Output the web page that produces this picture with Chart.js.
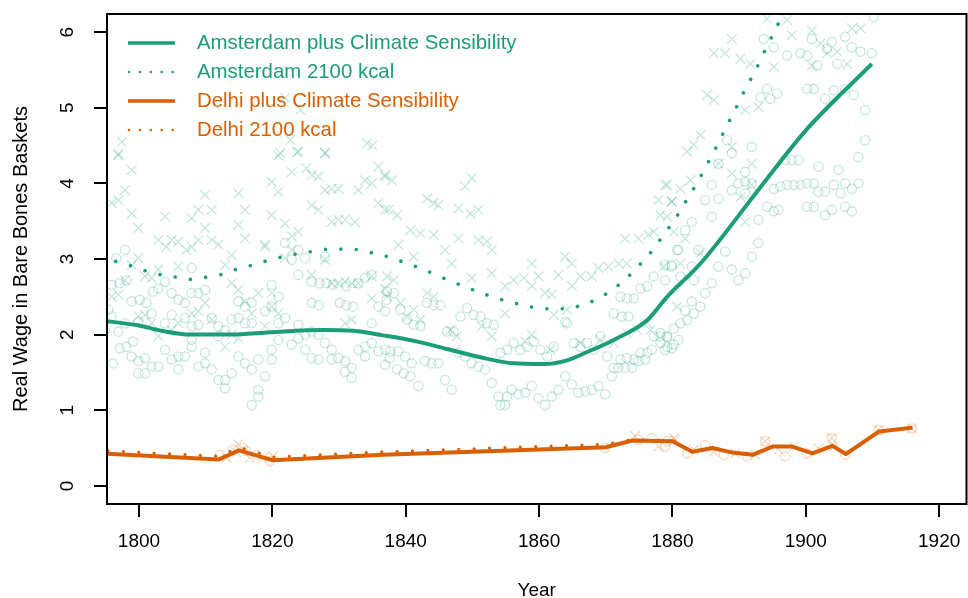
<!DOCTYPE html>
<html>
<head>
<meta charset="utf-8">
<script src="https://cdn.jsdelivr.net/npm/chart.js@4.4.0/dist/chart.umd.min.js"></script>
<style>
  html, body { margin: 0; padding: 0; background: #fff; }
  #wrap { width: 968px; height: 598px; }
</style>
</head>
<body>
<div id="wrap"><canvas id="wageChart" width="968" height="598"></canvas></div>
<script>
// axis ticks
const xTicks = [1800, 1820, 1840, 1860, 1880, 1900, 1920];
const yTicks = [0, 1, 2, 3, 4, 5, 6];

const seriesLabels = [
  "Amsterdam plus Climate Sensibility",
  "Amsterdam 2100 kcal",
  "Delhi plus Climate Sensibility",
  "Delhi 2100 kcal",
];

// Amsterdam plus climate sensibility (smoothed)
const amsCsYears = [1794, 1800, 1803.4, 1807.7, 1813.7, 1819.7, 1827.6, 1832.1, 1836.6, 1841.1, 1846.2, 1851.2, 1856.2, 1860.7, 1864.2, 1867.2, 1871.2, 1876.2, 1879.2, 1884.2, 1893.2, 1900.2, 1909.9];
const amsCsValues = [2.19, 2.12, 2.05, 2.0, 2.0, 2.03, 2.06, 2.05, 1.99, 1.92, 1.81, 1.7, 1.62, 1.61, 1.66, 1.77, 1.93, 2.19, 2.5, 2.94, 3.95, 4.72, 5.58];

// Amsterdam 2100 kcal (smoothed)
const ams2100Years = [1795.2, 1796.5, 1798.8, 1801.1, 1803.3, 1805.6, 1807.9, 1810.2, 1812.6, 1814.8, 1817.1, 1819.3, 1821.6, 1823.8, 1826.1, 1828.5, 1830.8, 1833.2, 1835.4, 1837.7, 1839.9, 1842.1, 1844.3, 1846.4, 1848.7, 1850.8, 1853.0, 1855.3, 1857.6, 1859.9, 1862.2, 1864.5, 1866.8, 1868.9, 1870.9, 1872.8, 1874.4, 1876.0, 1877.5, 1878.8, 1880.2, 1881.5, 1882.7, 1883.9, 1885.0, 1886.1, 1887.2, 1888.2, 1889.3, 1890.3, 1891.4, 1892.5, 1893.5, 1894.5, 1895.6, 1897, 1899];
const ams2100Values = [3.0, 2.97, 2.91, 2.84, 2.79, 2.76, 2.73, 2.76, 2.8, 2.87, 2.92, 2.98, 3.03, 3.07, 3.1, 3.13, 3.13, 3.12, 3.07, 3.02, 2.95, 2.88, 2.8, 2.72, 2.64, 2.57, 2.5, 2.44, 2.39, 2.35, 2.34, 2.35, 2.4, 2.48, 2.59, 2.72, 2.86, 3.01, 3.17, 3.34, 3.5, 3.69, 3.86, 4.04, 4.22, 4.4, 4.59, 4.77, 4.95, 5.14, 5.32, 5.5, 5.69, 5.87, 6.06, 6.32, 6.7];

// Delhi
const delhiYears = [1794, 1812, 1815, 1820, 1836.6, 1870, 1874, 1880, 1883, 1886, 1889, 1892, 1895, 1898, 1901, 1904, 1906, 1911, 1916];
const delhiCsValues = [0.43, 0.35, 0.47, 0.34, 0.41, 0.51, 0.6, 0.59, 0.45, 0.5, 0.44, 0.41, 0.52, 0.52, 0.43, 0.53, 0.42, 0.72, 0.77];
const delhi2100Values = [0.47, 0.39, 0.51, 0.38, 0.45, 0.55, 0.61, 0.6, 0.45, 0.5, 0.44, 0.41, 0.52, 0.52, 0.43, 0.53, 0.42, 0.72, 0.77];

// individual observations [year, wage]
const amsCircles = [
  [1797.9,3.12],[1796.6,3.01],[1795.9,2.66],[1797.1,2.68],[1798.1,2.72],[1798.9,2.44],[1800.1,2.46],[1801.1,2.42],[1802.1,2.57],[1801.9,2.28],
  [1802.9,2.61],[1803.9,2.7],[1804.9,2.55],[1805.9,2.46],[1806.9,2.42],[1807.9,2.88],[1807.9,2.55],[1808.9,2.55],[1809.9,2.59],[1810.9,2.22],
  [1811.9,2.11],[1812.9,2.06],[1813.9,2.2],[1814.9,2.44],[1815.9,2.37],[1816.9,2.42],[1816.9,2.15],[1818.9,2.31],[1819.9,2.37],[1819.9,2.66],
  [1820.9,2.5],[1821.9,3.21],[1822.9,2.99],[1823.9,3.12],[1824.9,3.01],[1823.9,2.79],[1825.9,2.42],[1826.9,2.39],[1825.9,2.7],[1827.1,2.68],
  [1827.9,3.03],[1828.1,2.68],[1829.1,2.66],[1830.1,2.42],[1831.1,2.39],[1832.1,2.37],[1831.1,2.64],[1832.9,2.68],[1833.9,2.75],[1834.9,2.79],
  [1835.9,2.37],[1836.9,2.31],[1837.1,2.46],
  [1796.1,1.62],[1797.1,1.82],[1798.1,1.84],[1799.1,1.91],[1798.9,1.71],[1799.9,1.65],[1800.9,1.69],[1799.9,1.49],[1800.9,1.49],[1801.9,1.58],
  [1802.9,1.58],[1803.9,1.8],[1804.9,1.67],[1805.9,1.71],[1805.9,1.54],[1806.9,1.71],[1807.9,1.84],[1808.9,1.58],[1809.9,1.62],[1809.9,1.76],
  [1810.9,1.54],[1811.9,1.4],[1812.9,1.29],[1812.9,1.4],[1813.9,1.49],[1814.9,1.71],[1815.9,1.62],[1816.9,1.54],[1817.9,1.67],[1817.9,1.27],
  [1816.9,1.07],[1817.9,1.18],[1818.9,1.45],[1819.9,1.67],[1819.9,1.8],[1820.9,1.93],[1822.9,1.87],[1823.9,1.95],[1824.9,1.8],[1825.9,1.69],
  [1826.9,1.67],[1827.9,1.89],[1828.9,1.8],[1828.9,1.67],[1829.9,1.69],[1830.9,1.65],[1830.9,1.51],[1831.9,1.56],[1831.9,1.43],[1832.9,1.8],
  [1833.9,1.84],[1834.9,1.89],[1833.9,1.71],[1835.9,1.78],[1836.9,1.6],[1837.6,1.69],
  [1795.4,2.33],[1795.9,2.24],[1794.9,2.06],[1796.9,2.04],[1797.9,2.15],[1799.9,2.17],[1803.9,2.15],[1804.9,2.26],[1806.9,2.22],[1807.9,2.11],
  [1807.9,1.93],[1808.9,2.13],[1811.9,1.98],[1814.9,2.22],[1815.9,2.15],[1820.9,2.15],[1821.9,2.22],[1823.9,2.13],[1824.9,2.0],[1825.9,2.04],
  [1826.9,2.0],[1834.9,2.15],
  [1837.2,2.57],[1838.2,2.55],[1839.2,2.33],[1840.2,2.2],[1841.2,2.13],[1842.2,2.11],[1843.2,2.42],[1844.2,2.39],[1845.2,2.39],[1846.2,2.04],
  [1847.2,2.04],[1848.2,2.24],[1849.2,2.35],[1850.2,2.26],[1851.2,2.24],[1852.2,2.15],[1853.2,2.13],[1863.9,2.17],[1871.2,2.28],[1872.2,2.5],
  [1873.2,2.48],[1874.2,2.48],[1875.2,2.61],[1876.2,2.64],[1877.2,2.77],[1878.9,2.92],[1879.9,2.9],[1880.7,3.12],[1872.4,2.24],[1873.4,2.24],
  [1836.9,1.8],[1837.7,1.78],[1838.9,1.78],[1839.9,1.71],[1840.9,1.62],[1842.9,1.65],[1843.9,1.62],[1844.9,1.62],[1847.9,1.76],[1848.9,1.71],
  [1849.9,1.62],[1850.9,1.58],[1854.2,1.76],[1855.2,1.8],[1856.2,1.89],[1857.2,1.8],[1858.2,1.84],[1859.2,1.91],[1860.2,1.8],[1861.2,1.71],
  [1862.2,1.84],[1864.2,2.15],[1865.2,1.89],[1866.2,1.84],[1867.2,1.89],[1868.2,1.8],[1869.2,1.98],[1870.2,1.71],[1871.2,1.56],[1872.2,1.67],
  [1873.2,1.69],[1874.2,1.67],[1875.2,1.76],[1876.2,1.76],[1877.2,1.98],[1878.2,1.98],[1879.2,1.84],[1880.2,1.87],[1879.2,1.98],
  [1838.7,1.54],[1839.7,1.49],[1840.7,1.45],[1841.9,1.32],[1845.9,1.4],[1846.9,1.27],[1851.9,1.54],[1852.9,1.36],[1853.9,1.18],[1854.9,1.07],
  [1855.9,1.27],[1856.9,1.21],[1857.9,1.23],[1858.9,1.32],[1859.9,1.16],[1860.9,1.07],[1861.9,1.18],[1862.9,1.27],[1863.9,1.45],[1864.9,1.34],
  [1865.9,1.23],[1866.9,1.25],[1867.9,1.27],[1868.9,1.32],[1869.9,1.21],[1870.9,1.45],[1871.9,1.56],[1872.9,1.56],[1873.9,1.56],[1874.9,1.65],
  [1875.9,1.67],[1876.9,1.8],[1878.2,1.89],[1854.2,1.07],[1855.2,1.18],
  [1878.2,2.02],[1879.2,1.97],[1880.2,2.08],[1881.2,2.15],[1882.2,2.19],[1883.2,2.28],[1884.2,2.37],[1880.9,1.93],[1879.9,1.82],[1878.9,1.8],
  [1881.9,2.32],[1882.9,2.44],
  [1893.7,5.91],[1895.2,5.8],[1897.2,5.69],[1899.2,5.72],[1900.9,5.91],[1900.2,5.69],[1903.2,5.78],[1904.7,5.58],[1905.9,5.94],[1906.9,5.8],
  [1908.2,5.74],[1909.9,5.72],[1910.2,6.2],[1903.9,5.87],[1901.7,5.56],[1894.2,5.25],[1895.7,5.19],[1893.2,5.14],[1894.7,5.12],[1900.2,5.25],
  [1901.2,5.25],[1904.2,5.23],[1905.9,5.25],[1907.2,5.17],[1902.9,5.12],[1908.9,4.97],[1908.9,4.57],[1907.9,4.35],[1901.9,4.22],[1904.9,4.18],
  [1888.2,4.57],[1891.9,4.48],[1888.9,4.4],[1896.9,4.31],[1898.9,4.31],[1897.9,4.31],[1886.9,4.26],[1890.9,4.15],[1889.9,4.0],[1891.9,4.0],
  [1895.2,3.93],[1896.2,3.96],[1897.2,3.98],[1898.2,3.98],[1899.2,3.98],[1900.2,4.0],[1901.2,4.0],[1901.9,3.89],[1902.9,3.89],[1904.2,3.98],
  [1905.2,3.87],[1905.9,4.0],[1906.9,3.93],[1907.9,4.0],[1894.2,3.69],[1895.2,3.63],[1895.9,3.65],[1900.2,3.69],[1901.2,3.69],[1902.9,3.58],
  [1903.9,3.65],[1905.9,3.69],[1906.9,3.63],[1885.9,3.98],[1884.9,3.78],[1886.9,3.8],[1888.9,3.91],[1890.9,4.02],[1892.9,3.52],[1892.9,3.21],
  [1891.9,3.03],[1890.9,2.81],[1889.9,2.72],[1888.9,2.86],[1887.9,3.1],[1886.9,2.9],[1885.9,2.68],[1884.9,2.55],[1882.9,3.49],[1881.9,3.38],
  [1880.9,3.12],[1879.9,2.92],[1878.9,2.72],[1883.9,3.12],[1882.9,2.9],[1881.2,2.77],[1883.2,2.72],[1890.9,3.87],[1885.9,3.56],
];

const amsCrosses = [
  [1796.9,4.37],[1798.9,4.18],[1797.9,3.91],[1796.9,3.78],[1795.9,3.74],[1798.9,3.6],[1799.9,3.41],[1803.9,3.56],[1809.9,3.85],[1808.9,3.65],
  [1810.9,3.65],[1807.9,3.54],[1809.9,3.41],[1814.9,3.87],[1815.9,3.65],[1814.9,3.45],[1815.9,3.27],[1819.9,4.02],[1820.9,3.89],[1819.9,3.58],
  [1820.9,4.37],[1822.9,4.15],[1823.9,4.42],[1825.1,4.2],[1825.9,4.11],[1826.9,4.09],[1827.9,4.4],[1827.9,3.91],[1828.9,3.93],[1829.9,3.93],
  [1825.9,3.71],[1826.9,3.65],[1828.9,3.49],[1829.9,3.52],[1830.9,3.52],[1832.4,3.49],[1832.9,3.91],[1833.9,4.04],[1834.9,4.0],[1835.9,4.22],
  [1836.9,4.09],[1835.9,3.74],[1836.9,3.65],[1802.9,3.25],[1804.1,3.16],[1804.9,3.25],[1805.9,3.23],[1807.1,3.12],[1807.9,3.16],[1808.9,3.25],
  [1810.9,3.25],[1811.9,3.19],[1818.9,3.19],[1821.9,3.47],[1823.9,3.36],[1822.9,3.3],
  [1799.9,3.01],[1798.9,2.92],[1797.9,2.72],[1796.9,2.53],[1795.9,2.5],[1800.9,2.77],[1801.9,2.75],[1802.9,2.86],[1805.9,2.9],[1812.9,2.92],
  [1813.9,3.05],[1813.9,2.68],[1814.9,2.59],[1818.9,3.16],[1816.9,2.28],[1818.9,2.11],[1819.9,2.55],[1821.9,3.01],[1822.9,3.12],[1825.9,2.79],
  [1827.9,2.99],[1828.9,2.68],[1829.9,2.68],[1830.9,2.7],[1831.9,2.68],[1832.9,2.68],[1834.9,2.77],[1799.9,2.24],[1800.9,2.26],[1801.9,2.15],
  [1802.9,1.98],[1804.9,2.06],[1805.9,2.15],[1807.9,2.28],[1808.9,2.31],[1809.9,2.42],[1810.9,2.2],[1812.9,1.84],[1813.9,2.0],[1814.9,1.95],
  [1815.9,2.44],[1817.9,2.55],[1819.9,2.37],[1820.9,2.28],[1830.9,2.15],[1831.9,2.2],[1834.9,2.48],[1836.9,2.61],
  [1821.9,5.13],[1824.2,4.97],[1822.7,4.57],[1821.2,4.4],[1823.7,4.41],[1827.9,4.4],[1834.2,4.53],[1835.0,4.5],[1797.4,4.55],[1796.9,4.39],
  [1836.9,4.11],[1837.9,4.04],[1837.4,3.65],[1838.7,3.58],[1843.2,3.8],[1844.2,3.74],[1844.9,3.71],[1840.7,3.38],[1842.2,3.34],[1844.2,3.32],
  [1847.9,3.67],[1849.9,4.07],[1848.9,3.96],[1850.9,3.65],[1849.7,3.6],[1847.9,3.27],[1850.9,3.25],[1852.2,3.23],[1852.9,3.12],[1838.9,3.19],
  [1841.2,3.03],[1845.9,3.12],[1846.9,2.94],[1849.9,2.75],[1852.9,2.81],[1856.2,2.72],[1857.7,2.75],[1858.9,2.94],[1859.9,2.77],[1858.9,2.64],
  [1854.9,2.64],[1854.9,2.28],[1860.9,2.55],[1861.9,2.53],[1863.9,3.03],[1864.9,2.94],[1862.9,2.79],[1864.9,2.64],[1866.2,2.77],[1867.9,2.77],
  [1868.9,2.88],[1870.4,2.9],[1871.9,2.94],[1873.2,2.94],[1872.9,3.27],[1874.9,3.27],[1876.4,3.32],[1877.2,3.36],[1877.9,3.78],[1878.9,3.98],
  [1879.9,3.76],[1878.2,3.58],[1864.2,2.33],[1862.2,2.26],[1858.9,2.0],[1857.9,1.91],[1861.7,1.8],[1866.2,1.89],[1869.2,1.93],[1871.2,1.89],
  [1873.2,2.02],[1874.7,2.06],[1876.2,2.15],[1876.7,2.06],[1837.2,2.77],[1838.2,2.72],[1843.2,2.55],[1844.2,2.5],[1837.2,2.5],[1839.2,2.42],
  [1841.2,2.33],[1840.2,2.24],[1842.2,2.2],[1846.7,2.06],[1847.7,1.98],[1851.4,2.11],[1852.9,1.98],[1880.7,2.37],
  [1894.2,6.18],[1897.2,6.16],[1888.9,5.91],[1897.9,5.96],[1886.2,5.72],[1887.9,5.72],[1890.2,5.65],[1891.7,5.58],[1895.2,5.54],[1900.9,6.02],
  [1902.2,5.85],[1903.2,5.72],[1904.7,5.74],[1906.9,6.05],[1908.2,6.05],[1906.2,5.58],[1900.9,5.56],[1885.2,5.17],[1886.2,5.1],[1890.9,4.97],
  [1892.9,5.01],[1884.2,4.64],[1882.2,4.42],[1883.2,4.51],[1888.9,4.48],[1891.9,4.26],[1886.9,4.26],[1888.9,4.13],[1879.2,3.98],[1881.2,3.93],
  [1882.7,4.04],[1879.9,3.76],[1879.2,3.56],[1880.2,3.36],[1881.9,3.27],[1884.2,3.08],[1890.9,3.49],[1891.9,3.98],[1890.2,3.82],[1878.7,2.9],
  [1881.2,2.94],
];

const delhiCircles = [
  [1812.1,0.41],[1814.1,0.48],[1815.6,0.5],[1817.6,0.41],[1819.6,0.33],[1816.1,0.46],[1869.9,0.5],[1874.9,0.61],[1876.9,0.63],[1879.2,0.59],
  [1878.9,0.52],[1882.2,0.43],[1884.9,0.54],[1887.7,0.41],[1891.2,0.39],[1893.9,0.59],[1896.9,0.39],[1900.2,0.43],[1903.9,0.63],[1905.9,0.41],
  [1910.9,0.74],[1915.9,0.76],
];
const delhiCrosses = [
  [1813.1,0.37],[1814.9,0.55],[1816.6,0.37],[1818.6,0.37],[1820.1,0.39],[1814.6,0.44],[1874.4,0.66],[1877.9,0.52],[1880.2,0.63],[1880.4,0.61],
  [1883.2,0.48],[1886.2,0.45],[1889.4,0.43],[1892.4,0.41],[1895.9,0.48],[1898.2,0.52],[1901.9,0.5],[1904.2,0.52],[1893.9,0.59],[1903.9,0.63],
  [1910.9,0.74],[1915.9,0.76],
];

const GREEN = "#1B9E77";
const ORANGE = "#D95F02";
const GREEN_PALE = "rgba(27,158,119,0.25)";
const ORANGE_PALE = "rgba(217,95,2,0.25)";
const FONT = "'Liberation Sans', Arial, Helvetica, sans-serif";

const zip = (xs, ys) => xs.map((x, i) => ({ x: x, y: ys[i] }));
const fromPairs = (pairs) => pairs.map((p) => ({ x: p[0], y: p[1] }));

function lineSet(label, xs, ys, color, width, dotted, smooth) {
  return {
    type: "line",
    label: label,
    data: zip(xs, ys),
    borderColor: color,
    borderWidth: width,
    borderDash: dotted ? [0.01, 15.4] : [],
    borderDashOffset: dotted ? 6.4 : 0,
    borderCapStyle: dotted ? "round" : "butt",
    borderJoinStyle: "round",
    cubicInterpolationMode: smooth ? "monotone" : "default",
    tension: 0,
    pointRadius: 0,
    fill: false,
    clip: 0,
    order: 1,
  };
}

function pointSet(label, pairs, color, style, radius) {
  return {
    type: "line",
    label: label,
    data: fromPairs(pairs),
    showLine: false,
    pointStyle: style,
    pointRadius: radius,
    pointBorderWidth: 1.3,
    pointBorderColor: color,
    pointBackgroundColor: "rgba(0,0,0,0)",
    clip: 0,
    order: 10,
  };
}

// keep the plot region where R puts it: no extra room for edge labels
function noEdgePadding(s) {
  s.paddingLeft = 0;
  s.paddingRight = 0;
  s.paddingTop = 0;
  s.paddingBottom = 0;
}

// R style legend, drawn inside the plot region
const legendPlugin = {
  id: "rLegend",
  afterDraw(chart) {
    const { ctx, chartArea } = chart;
    const x0 = chartArea.left + 21;
    const x1 = chartArea.left + 68;
    ctx.save();
    ctx.font = "20.4px " + FONT;
    ctx.textBaseline = "middle";
    for (let i = 0; i < 4; i++) {
      const ds = chart.data.datasets[i];
      const y = chartArea.top + 29 + i * 29;
      const dotted = ds.borderDash.length > 0;
      ctx.strokeStyle = ds.borderColor;
      ctx.lineWidth = dotted ? 2.6 : 3.5;
      ctx.lineCap = dotted ? "round" : "butt";
      ctx.setLineDash(dotted ? [0.01, 10.9] : []);
      ctx.beginPath();
      ctx.moveTo(x0 + (dotted ? 1 : 0), y);
      ctx.lineTo(x1, y);
      ctx.stroke();
      ctx.fillStyle = ds.borderColor;
      ctx.fillText(ds.label, chartArea.left + 90, y);
    }
    ctx.restore();
  },
};

// box round the plot region
const framePlugin = {
  id: "frame",
  afterDraw(chart) {
    const { ctx, chartArea } = chart;
    ctx.save();
    ctx.strokeStyle = "#000";
    ctx.lineWidth = 2;
    ctx.strokeRect(chartArea.left, chartArea.top, chartArea.right - chartArea.left, chartArea.bottom - chartArea.top);
    ctx.restore();
  },
};

const axisGrid = {
  drawOnChartArea: false,
  drawTicks: true,
  tickLength: 13,
  lineWidth: 2,
  tickWidth: 2,
  color: "#000",
  tickColor: "#000",
};

const ctx = document.getElementById("wageChart").getContext("2d");
const chart = new Chart(ctx, {
  type: "line",
  data: {
    datasets: [
      lineSet(seriesLabels[0], amsCsYears, amsCsValues, GREEN, 4, false, true),
      lineSet(seriesLabels[1], ams2100Years, ams2100Values, GREEN, 3.6, true, true),
      lineSet(seriesLabels[2], delhiYears, delhiCsValues, ORANGE, 4, false, false),
      lineSet(seriesLabels[3], delhiYears, delhi2100Values, ORANGE, 3.2, true, false),
      pointSet("Amsterdam observations (circles)", amsCircles, GREEN_PALE, "circle", 4.6),
      pointSet("Amsterdam observations (crosses)", amsCrosses, GREEN_PALE, "crossRot", 6.8),
      pointSet("Delhi observations (circles)", delhiCircles, ORANGE_PALE, "circle", 4.6),
      pointSet("Delhi observations (crosses)", delhiCrosses, ORANGE_PALE, "crossRot", 6.8),
    ],
  },
  options: {
    responsive: false,
    animation: false,
    devicePixelRatio: 1,
    events: [],
    layout: { autoPadding: false, padding: { left: 0, right: 1.5, top: 14, bottom: 0 } },
    plugins: {
      legend: { display: false },
      tooltip: { enabled: false },
    },
    scales: {
      x: {
        type: "linear",
        min: 1795.2,
        max: 1924.1,
        afterBuildTicks: (s) => { s.ticks = xTicks.map((v) => ({ value: v })); },
        afterFit: (s) => { s.height = 94; noEdgePadding(s); },
        grid: axisGrid,
        border: { display: false },
        ticks: {
          color: "#000",
          font: { family: FONT, size: 19 },
          padding: 13,
          maxRotation: 0,
          autoSkip: false,
          callback: (v) => String(v),
        },
        title: {
          display: true,
          text: "Year",
          color: "#000",
          font: { family: FONT, size: 19, lineHeight: 1 },
          padding: { top: 0, bottom: -2 },
        },
      },
      y: {
        type: "linear",
        min: -0.24,
        max: 6.24,
        afterBuildTicks: (s) => { s.ticks = yTicks.map((v) => ({ value: v })); },
        afterFit: (s) => { s.width = 107; noEdgePadding(s); },
        grid: axisGrid,
        border: { display: false },
        ticks: {
          color: "#000",
          font: { family: FONT, size: 19 },
          padding: 20.5,
          minRotation: 90,
          maxRotation: 90,
          crossAlign: "center",
          autoSkip: false,
          callback: (v) => String(v),
        },
        title: {
          display: true,
          text: "Real Wage in Bare Bones Baskets",
          color: "#000",
          font: { family: FONT, size: 20, lineHeight: 1 },
          padding: { top: 11, bottom: 0 },
        },
      },
    },
  },
  plugins: [legendPlugin, framePlugin],
});
</script>
</body>
</html>
